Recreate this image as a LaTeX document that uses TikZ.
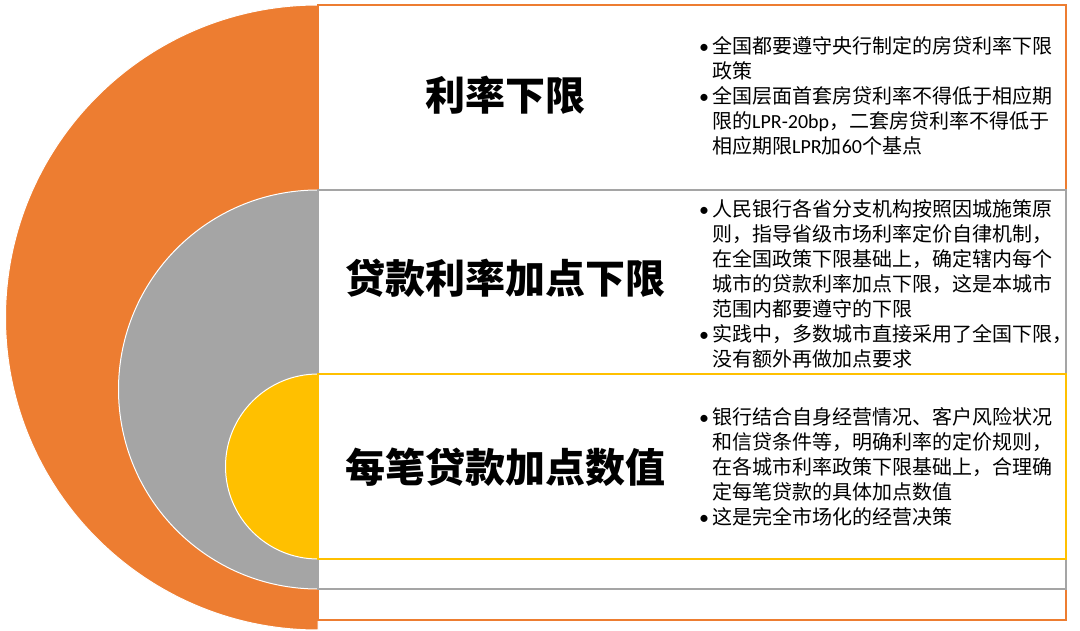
\documentclass[tikz,border=0pt]{standalone}
\usepackage{fontspec}
\setmainfont{Noto Sans CJK SC}
\newfontfamily\lat{Carlito}
\usepackage{tikz}
\usetikzlibrary{positioning}
\definecolor{ring1}{HTML}{ED7D31}
\definecolor{ring2}{HTML}{A5A5A5}
\definecolor{ring3}{HTML}{FFC000}
\tikzstyle{half} = [draw=white, line width=1pt]
\tikzstyle{panel} = [fill=white, line width=2pt]
\tikzstyle{title} = [font=\fontsize{40}{48}\selectfont\bfseries, anchor=center, inner sep=0pt]
\tikzstyle{notes} = [font=\fontsize{20}{25}\selectfont, align=left, anchor=west, inner sep=0pt]
\newcommand{\bul}{\makebox[13pt][l]{\lat •}}
\newcommand{\ind}{\hspace*{13pt}}

\begin{document}
\begin{tikzpicture}[x=1pt,y=1pt]
\useasboundingbox (0,0) rectangle (1080,630);

%Half circles
\draw[half, fill=ring1] (318,625) arc[start angle=90, end angle=270, radius=312.5] -- cycle;
\draw[half, fill=ring2] (318,440) arc[start angle=90, end angle=270, radius=199.5] -- cycle;
\draw[half, fill=ring3] (318,256) arc[start angle=90, end angle=270, radius=92.5] -- cycle;

%Panels
\draw[panel, draw=ring1] (318,10) rectangle (1066,625);
\draw[panel, draw=ring2] (318,41) rectangle (1066,440);
\draw[panel, draw=ring3] (318,71) rectangle (1066,256);

%Titles
\node[title] (t1) at (505,535) {利率下限};
\node[title] (t2) at (505,352) {贷款利率加点下限};
\node[title] (t3) at (505,163) {每笔贷款加点数值};

%Notes
\node[notes] (n1) at (699,534) {\bul 全国都要遵守央行制定的房贷利率下限\\
\ind 政策\\
\bul 全国层面首套房贷利率不得低于相应期\\
\ind 限的{\lat LPR-20bp}，二套房贷利率不得低于\\
\ind 相应期限{\lat LPR}加{\lat 60}个基点};
\node[notes] (n2) at (699,346.5) {\bul 人民银行各省分支机构按照因城施策原\\
\ind 则，指导省级市场利率定价自律机制，\\
\ind 在全国政策下限基础上，确定辖内每个\\
\ind 城市的贷款利率加点下限，这是本城市\\
\ind 范围内都要遵守的下限\\
\bul 实践中，多数城市直接采用了全国下限，\\
\ind 没有额外再做加点要求};
\node[notes] (n3) at (699,163.5) {\bul 银行结合自身经营情况、客户风险状况\\
\ind 和信贷条件等，明确利率的定价规则，\\
\ind 在各城市利率政策下限基础上，合理确\\
\ind 定每笔贷款的具体加点数值\\
\bul 这是完全市场化的经营决策};
\end{tikzpicture}
\end{document}
